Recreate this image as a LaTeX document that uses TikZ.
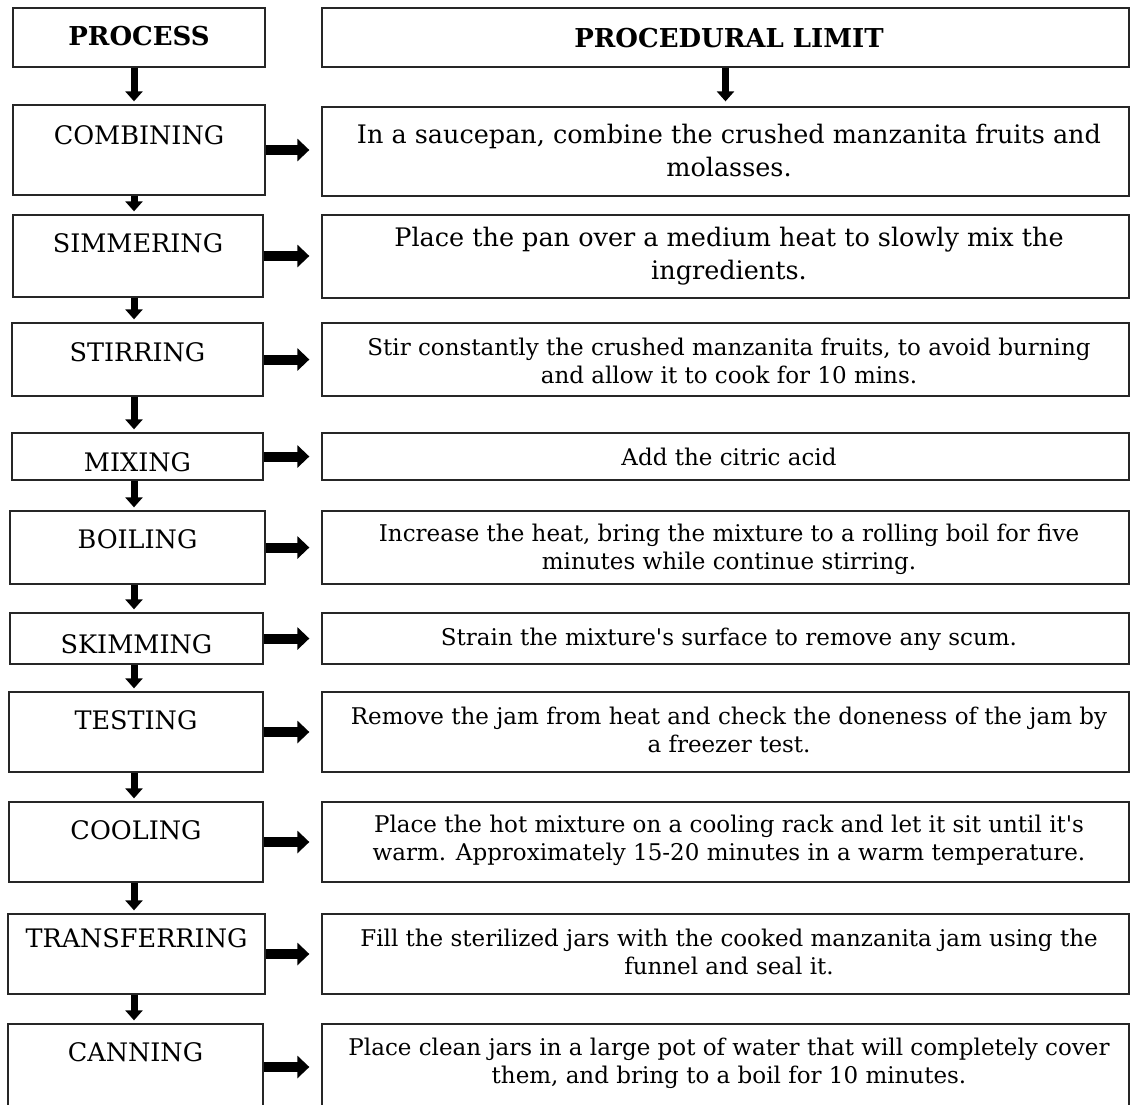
\documentclass[tikz,border=0pt]{standalone}
\usepackage{fontspec}
\setmainfont{DejaVu Serif}
\newcommand\sq{{\addfontfeature{Ligatures=TeXOff}'}}
\usetikzlibrary{arrows.meta}
\begin{document}
\begin{tikzpicture}[x=1pt,y=-1pt,
  box/.style={draw=black!85, line width=1.3pt, inner sep=0pt},
  lab/.style={font=\fontsize{25.5}{29}\selectfont, anchor=base, inner sep=0pt},
  hdr/.style={font=\bfseries\fontsize{26}{30}\selectfont, anchor=base, inner sep=0pt},
  desc/.style={font=\fontsize{23}{28}\selectfont, align=center, inner sep=0pt},
  descw/.style={font=\fontsize{25.5}{33}\selectfont, align=center, inner sep=0pt},
  darr/.style={line width=7pt, -{Triangle[width=17pt,length=10pt]}},
  rarr/.style={line width=10pt, -{Triangle[width=22pt,length=12pt]}}]
\useasboundingbox (0,0) rectangle (1132,1104);
\clip (0,0) rectangle (1132,1104);
\coordinate (ax) at (134,0);
% left boxes
\node[box, minimum width=252pt, minimum height=59pt] (l0) at (139,37.5) {};
\node[box, minimum width=252pt, minimum height=90pt] (l1) at (139,150) {};
\node[box, minimum width=250pt, minimum height=82pt] (l2) at (138,256) {};
\node[box, minimum width=251pt, minimum height=73pt] (l3) at (137.5,359.5) {};
\node[box, minimum width=251pt, minimum height=47pt] (l4) at (137.5,456.5) {};
\node[box, minimum width=255pt, minimum height=73pt] (l5) at (137.5,547.5) {};
\node[box, minimum width=253pt, minimum height=51pt] (l6) at (136.5,638.5) {};
\node[box, minimum width=254pt, minimum height=80pt] (l7) at (136,732) {};
\node[box, minimum width=254pt, minimum height=80pt] (l8) at (136,842) {};
\node[box, minimum width=257pt, minimum height=80pt] (l9) at (136.5,954) {};
\node[box, minimum width=255pt, minimum height=86pt] (l10) at (135.5,1067) {};
% left labels
\node[hdr] (t0) at (139,45) {PROCESS};
\node[lab] (t1) at (139,144) {COMBINING};
\node[lab] (t2) at (138,252) {SIMMERING};
\node[lab] (t3) at (137.5,361) {STIRRING};
\node[lab] (t4) at (137.5,471) {MIXING};
\node[lab] (t5) at (137.5,548) {BOILING};
\node[lab] (t6) at (136.5,653) {SKIMMING};
\node[lab] (t7) at (136,729) {TESTING};
\node[lab] (t8) at (136,839) {COOLING};
\node[lab] (t9) at (136.5,947) {TRANSFERRING};
\node[lab] (t10) at (135.5,1061) {CANNING};
% right boxes
\node[box, minimum width=807pt, minimum height=59pt] (r0) at (725.5,37.5) {};
\node[box, minimum width=807pt, minimum height=89pt] (r1) at (725.5,151.5) {};
\node[box, minimum width=807pt, minimum height=83pt] (r2) at (725.5,256.5) {};
\node[box, minimum width=807pt, minimum height=73pt] (r3) at (725.5,359.5) {};
\node[box, minimum width=807pt, minimum height=47pt] (r4) at (725.5,456.5) {};
\node[box, minimum width=807pt, minimum height=73pt] (r5) at (725.5,547.5) {};
\node[box, minimum width=807pt, minimum height=51pt] (r6) at (725.5,638.5) {};
\node[box, minimum width=807pt, minimum height=80pt] (r7) at (725.5,732) {};
\node[box, minimum width=807pt, minimum height=80pt] (r8) at (725.5,842) {};
\node[box, minimum width=807pt, minimum height=80pt] (r9) at (725.5,954) {};
\node[box, minimum width=807pt, minimum height=86pt] (r10) at (725.5,1067) {};
% right texts
\node[hdr] (s0) at (729,47) {PROCEDURAL LIMIT};
\node[descw] (s1) at (729,150) {In a saucepan, combine the crushed manzanita fruits and\\molasses.};
\node[descw] (s2) at (729,256.5) {Place the pan over a medium heat to slowly mix the\\ingredients.};
\node[desc] (s3) at (729,361) {Stir constantly the crushed manzanita fruits, to avoid burning\\and allow it to cook for 10 mins.};
\node[desc] (s4) at (729,457) {Add the citric acid};
\node[desc] (s5) at (729,549) {Increase the heat, bring the mixture to a rolling boil for five\\minutes while continue stirring.};
\node[desc] (s6) at (729,639) {Strain the mixture\sq s surface to remove any scum.};
\node[desc] (s7) at (729,730) {Remove the jam from heat and check the doneness of the jam by\\a freezer test.};
\node[desc] (s8) at (729,840.5) {Place the hot mixture on a cooling rack and let it sit until it\sq s\\warm. Approximately 15-20 minutes in a warm temperature.};
\node[desc] (s9) at (729,952) {Fill the sterilized jars with the cooked manzanita jam using the\\funnel and seal it.};
\node[desc] (s10) at (729,1063) {Place clean jars in a large pot of water that will completely cover\\them, and bring to a boil for 10 minutes.};
% down arrows
\foreach \a/\b in {l0/l1,l1/l2,l2/l3,l3/l4,l4/l5,l5/l6,l6/l7,l7/l8,l8/l9,l9/l10}
  \draw[darr, shorten >=3pt] (\a.south -| ax) -- (\b.north -| ax);
\draw[darr, shorten >=5pt] (r0.south) -- (r1.north);
% right arrows
\foreach \i in {1,...,10}
  \draw[rarr, shorten >=12pt] (l\i.east) -- (l\i.east -| r\i.west);
\end{tikzpicture}
\end{document}
